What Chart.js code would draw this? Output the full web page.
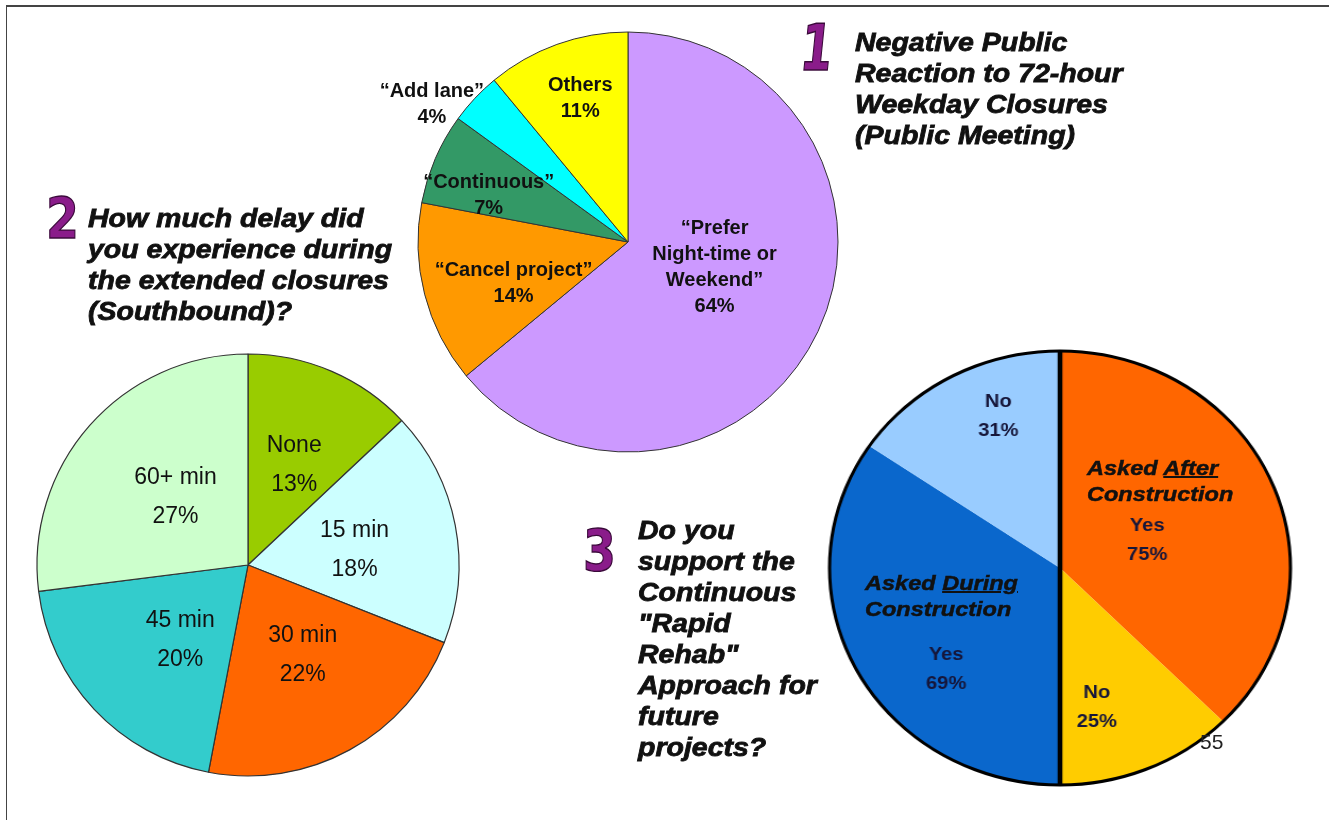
<!DOCTYPE html>
<html>
<head>
<meta charset="utf-8">
<script src="https://cdn.jsdelivr.net/npm/chart.js@4.4.0/dist/chart.umd.min.js"></script>
<style>
  body { margin:0; background:#fff; width:1329px; height:820px; position:relative; overflow:hidden;
         font-family:"Liberation Sans", Arial, sans-serif; }
  .frame { position:absolute; left:6px; top:5px; right:0; bottom:0; border-top:2px solid #444; border-left:1.5px solid #444; }
  .box { position:absolute; }
  .title { position:absolute; font-weight:bold; font-style:italic; font-size:25px; line-height:31px;
           color:#111; -webkit-text-stroke:0.8px #111; white-space:nowrap;
           transform:scaleX(1.14); transform-origin:left top; }
  .num { position:absolute; font-family:"DejaVu Sans", sans-serif; font-weight:bold; font-size:64px; line-height:64px;
         color:#8a1c8a; -webkit-text-stroke:1.5px #3a0a3a; transform-origin:left top; }
  .asked { position:absolute; font-weight:bold; font-style:italic; font-size:21px; line-height:26px; color:#111;
           -webkit-text-stroke:0.5px #111; white-space:nowrap; transform:scaleX(1.12); transform-origin:left top; }
  .asked u { text-decoration-thickness:2px; }
  .page { position:absolute; left:1200px; top:730px; font-size:21px; color:#222; }
</style>
</head>
<body>
<div class="frame"></div>

<div class="box" style="left:328px;top:22px;width:600px;height:440px"><canvas id="c1"></canvas></div>
<div class="box" style="left:18px;top:345px;width:460px;height:440px"><canvas id="c2"></canvas></div>
<div class="box" style="left:820px;top:340px;width:480px;height:456px;transform:scaleX(1.062);transform-origin:240px 228px"><canvas id="c3"></canvas></div>

<div class="num" style="left:804px;top:16px;transform:scale(0.72,1.0) skewX(-8deg)">1</div>
<div class="title" style="left:855px;top:27px">Negative Public<br>Reaction to 72-hour<br>Weekday Closures<br>(Public Meeting)</div>

<div class="num" style="left:46px;top:190px;transform:scale(0.74,0.9)">2</div>
<div class="title" style="left:88px;top:203px">How much delay did<br>you experience during<br>the extended closures<br>(Southbound)?</div>

<div class="num" style="left:583px;top:522px;transform:scale(0.74,0.9)">3</div>
<div class="title" style="left:638px;top:515px">Do you<br>support the<br>Continuous<br>"Rapid<br>Rehab"<br>Approach for<br>future<br>projects?</div>

<div class="asked" style="left:1087px;top:455px">Asked <u>After</u><br>Construction</div>
<div class="asked" style="left:865px;top:570px">Asked <u>During</u><br>Construction</div>
<div class="page">55</div>

<script>
// chart 1 - negative public reaction
const reactionCats = ['\u201CPrefer\nNight-time or\nWeekend\u201D', '\u201CCancel project\u201D', '\u201CContinuous\u201D', '\u201CAdd lane\u201D', 'Others'];
const reactionVals = [64, 14, 7, 4, 11];
const reactionColors = ['#CC99FF', '#FF9900', '#339966', '#00FFFF', '#FFFF00'];

// chart 2 - delay southbound
const delayCats = ['None', '15 min', '30 min', '45 min', '60+ min'];
const delayVals = [13, 18, 22, 20, 27];
const delayColors = ['#99CC00', '#CCFFFF', '#FF6600', '#33CCCC', '#CCFFCC'];

// chart 3 - support rapid rehab, two half pies
const supportCats = ['Yes', 'No'];
const afterVals = [75, 25];
const duringVals = [69, 31];
const supportColors = ['#FF6600', '#FFCC00', '#0A67CC', '#99CCFF'];

// label placement: fraction of radius, angle shift in degrees
const pos1 = [[0.43,-8.6],[0.58,-5.6],[0.70,-4.8],[1.14,-8.2],[0.72,1.4]];
const pos2 = [[0.52,1.5],[0.51,2.8],[0.50,-2.4],[0.48,-4.8],[0.47,1.6]];
const pos3 = [[0.40,3.6],[0.66,8.5],[0.68,-15.5],[0.75,7]];

const sliceLabels = {
  id: 'sliceLabels',
  afterDatasetsDraw(chart, args, opts) {
    const ctx = chart.ctx;
    const arcs = chart.getDatasetMeta(0).data;
    ctx.save();
    ctx.font = opts.font;
    ctx.fillStyle = opts.color || '#111';
    ctx.textAlign = 'center';
    ctx.textBaseline = 'middle';
    arcs.forEach((arc, i) => {
      const p = opts.pos[i];
      const a = (arc.startAngle + arc.endAngle) / 2 + p[1] * Math.PI / 180;
      const r = arc.outerRadius * p[0];
      const x = arc.x + Math.cos(a) * r, y = arc.y + Math.sin(a) * r;
      const lines = opts.texts[i];
      lines.forEach((ln, j) => ctx.fillText(ln, x, y + (j - (lines.length - 1) / 2) * opts.lh));
    });
    ctx.restore();
  }
};

const halfOutline = {
  id: 'halfOutline',
  afterDatasetsDraw(chart) {
    const arc = chart.getDatasetMeta(0).data[0];
    const ctx = chart.ctx;
    ctx.save();
    ctx.strokeStyle = '#000';
    ctx.lineWidth = 3;
    ctx.beginPath();
    ctx.arc(arc.x, arc.y, arc.outerRadius, 0, Math.PI * 2);
    ctx.stroke();
    ctx.lineWidth = 4.5;
    ctx.beginPath();
    ctx.moveTo(arc.x, arc.y - arc.outerRadius);
    ctx.lineTo(arc.x, arc.y + arc.outerRadius);
    ctx.stroke();
    ctx.restore();
  }
};

function makePie(id, w, h, vals, colors, radius, border, bw, labelOpts, extra) {
  const cv = document.getElementById(id);
  cv.width = w; cv.height = h;
  return new Chart(cv, {
    type: 'pie',
    data: {
      labels: vals.map((v, i) => i),
      datasets: [{ data: vals, backgroundColor: colors, borderColor: border, borderWidth: bw }]
    },
    options: {
      responsive: false,
      animation: false,
      radius: radius,
      plugins: { legend: { display: false }, tooltip: { enabled: false }, sliceLabels: labelOpts }
    },
    plugins: [sliceLabels].concat(extra || [])
  });
}

makePie('c1', 600, 440, reactionVals, reactionColors, 210, '#333', 1, {
  font: 'bold 20px "Liberation Sans", Arial, sans-serif', lh: 26, pos: pos1,
  texts: reactionCats.map((c, i) => c.split('\n').concat(reactionVals[i] + '%'))
});

makePie('c2', 460, 440, delayVals, delayColors, 211, '#333', 1.2, {
  font: '23px "Liberation Sans", Arial, sans-serif', lh: 39, pos: pos2,
  texts: delayCats.map((c, i) => [c, delayVals[i] + '%'])
});

const supportPct = afterVals.concat(duringVals);
const supportHalf = supportPct.map(v => v / 2);
makePie('c3', 480, 456, supportHalf, supportColors, 217, '#000', 0, {
  font: 'bold 19px "Liberation Sans", Arial, sans-serif', lh: 29, pos: pos3, color: '#16163a',
  texts: supportPct.map((v, i) => [supportCats[i % 2], v + '%'])
}, [halfOutline]);
</script>
</body>
</html>
